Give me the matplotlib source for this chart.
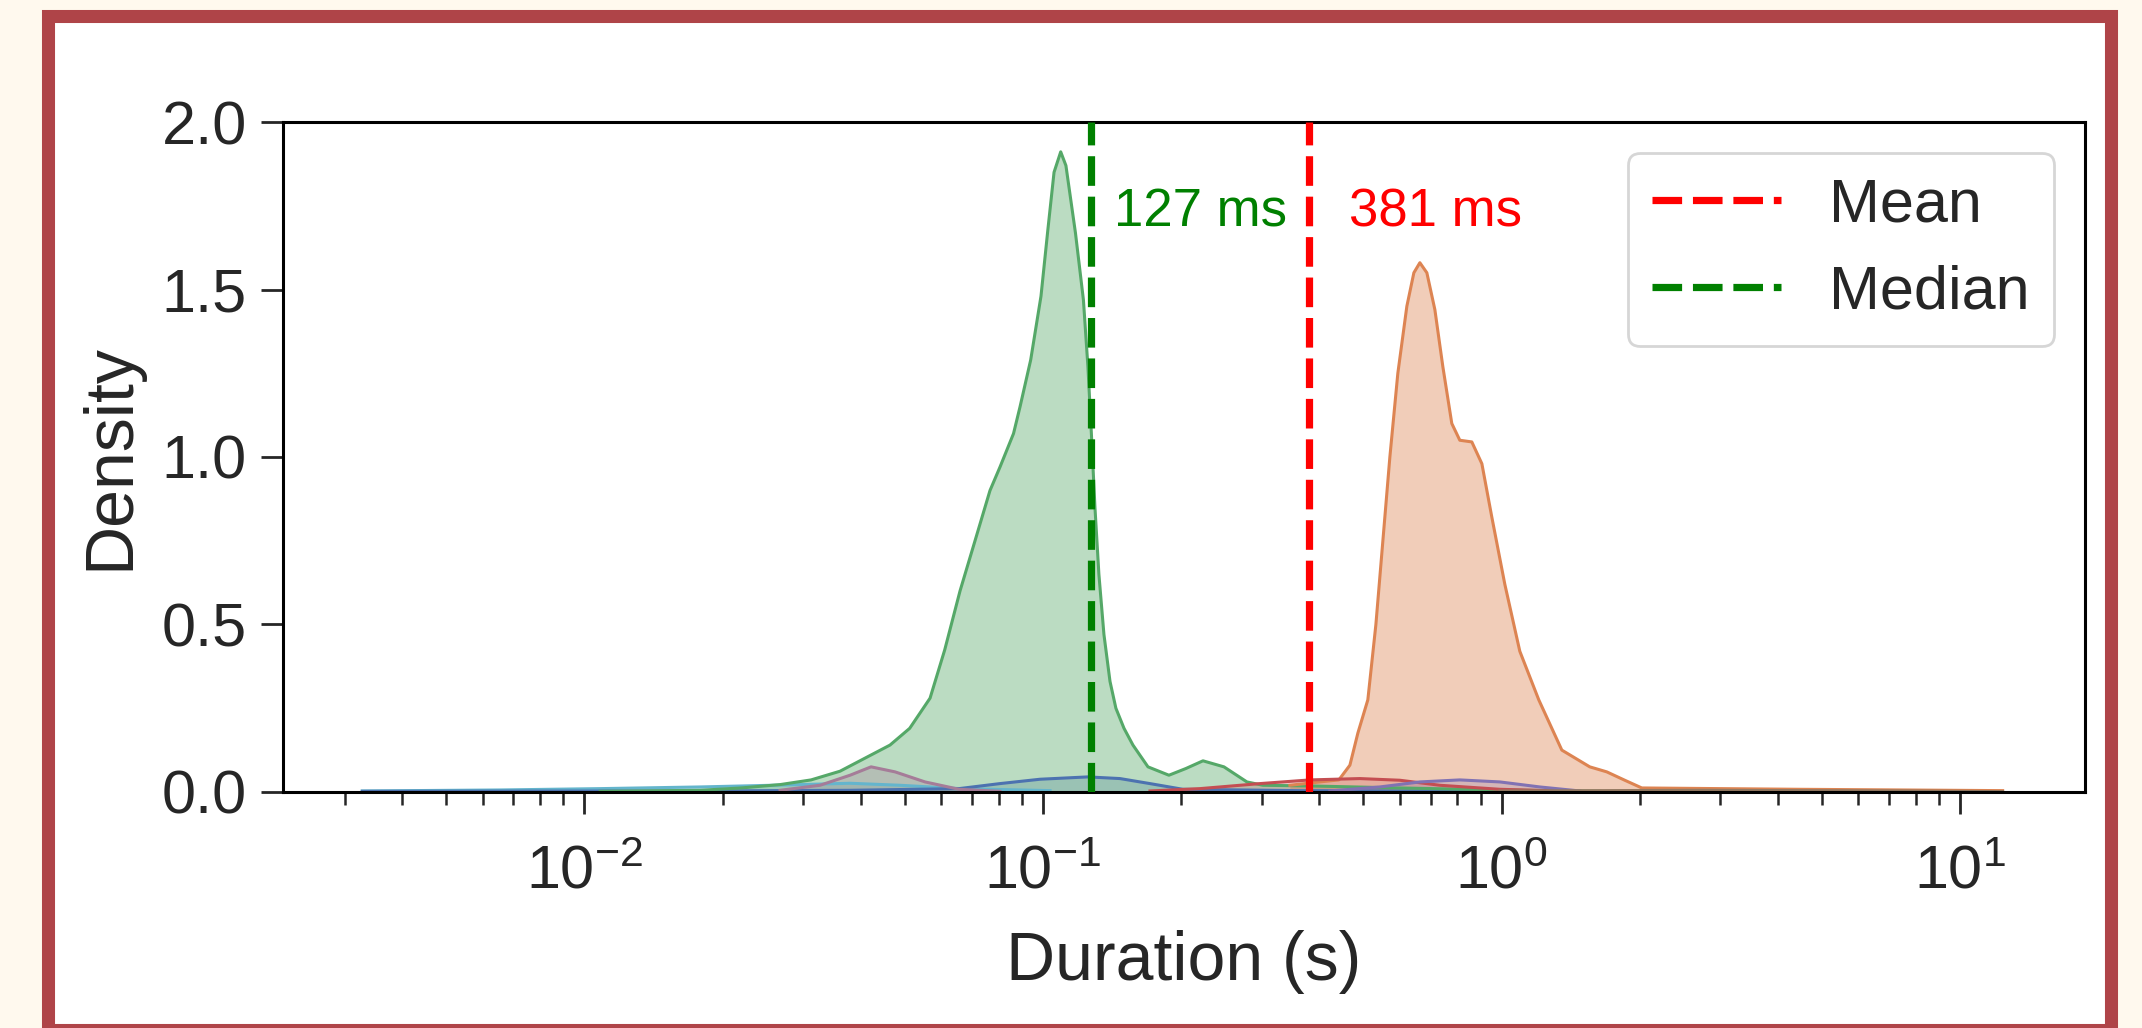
import matplotlib
matplotlib.use("Agg")
import matplotlib.pyplot as plt
from matplotlib.patches import Rectangle
from matplotlib.lines import Line2D

# ---------------- data (durations in seconds, density) ----------------
green_x = [0.01082, 0.01788, 0.02196, 0.02670, 0.03120, 0.03609, 0.04144, 0.04638,
           0.05120, 0.05671, 0.06104, 0.06592, 0.07108, 0.07663, 0.08057, 0.08624,
           0.08911, 0.09401, 0.09899, 0.1025, 0.1057, 0.1093, 0.1122, 0.1177,
           0.1225, 0.1253, 0.1275, 0.1298, 0.1324, 0.1358, 0.1400, 0.1442,
           0.1502, 0.1571, 0.1694, 0.1882, 0.2049, 0.2233, 0.2481, 0.2784,
           0.3017, 0.3821, 0.6003, 0.9915, 1.638]
green_y = [0.002, 0.005, 0.012, 0.022, 0.036, 0.062, 0.105, 0.14,
           0.19, 0.28, 0.424, 0.60, 0.75, 0.90, 0.97, 1.07,
           1.15, 1.29, 1.48, 1.68, 1.85, 1.911, 1.87, 1.669,
           1.469, 1.27, 1.07, 0.85, 0.65, 0.47, 0.33, 0.25,
           0.19, 0.14, 0.075, 0.05, 0.07, 0.093, 0.075, 0.03,
           0.02, 0.018, 0.012, 0.006, 0.002]

orange_x = [0.3455, 0.4017, 0.4418, 0.4670, 0.4861, 0.5110, 0.5321, 0.5511,
            0.5708, 0.5941, 0.6216, 0.6439, 0.6636, 0.6873, 0.7155, 0.7447,
            0.7790, 0.8110, 0.8614, 0.9060, 0.9526, 1.0167, 1.0962, 1.2057,
            1.3536, 1.5574, 1.6965, 1.8571, 2.0225, 4.4699, 12.384]
orange_y = [0.02, 0.03, 0.036, 0.08, 0.176, 0.275, 0.5, 0.75,
            1.0, 1.25, 1.45, 1.55, 1.58, 1.55, 1.44, 1.27,
            1.1, 1.05, 1.045, 0.98, 0.82, 0.62, 0.42, 0.275,
            0.125, 0.075, 0.06, 0.035, 0.012, 0.008, 0.004]

blue_x = [0.003276, 0.01788, 0.03795, 0.06560, 0.08057, 0.09851, 0.1253, 0.1472,
          0.1711, 0.2019, 0.3634, 0.9915]
blue_y = [0.002, 0.003, 0.005, 0.01, 0.025, 0.038, 0.045, 0.04,
          0.025, 0.008, 0.004, 0.002]

pink_x = [0.0267, 0.03264, 0.03795, 0.04217, 0.04757, 0.05530, 0.0656, 0.08057]
pink_y = [0.005, 0.02, 0.05, 0.075, 0.06, 0.03, 0.008, 0.002]

cyan_x = [0.003276, 0.006551, 0.01082, 0.01788, 0.02953, 0.03795, 0.04878, 0.06592, 0.1036]
cyan_y = [0.003, 0.006, 0.01, 0.015, 0.022, 0.026, 0.02, 0.01, 0.004]

red_x = [0.1711, 0.2200, 0.2972, 0.3821, 0.4911, 0.6003, 0.7337, 0.9915, 1.340]
red_y = [0.003, 0.01, 0.025, 0.036, 0.04, 0.035, 0.02, 0.008, 0.003]

purple_x = [0.4222, 0.5429, 0.6636, 0.8110, 0.9915, 1.2119, 1.4815]
purple_y = [0.003, 0.015, 0.03, 0.036, 0.03, 0.015, 0.003]

brown_x = [0.9915, 2.706, 7.384, 12.38]
brown_y = [0.003, 0.005, 0.003, 0.001]

mean_val = 0.381
median_val = 0.127
mean_label = "381 ms"
median_label = "127 ms"
legend_labels = ["Mean", "Median"]
x_label = "Duration (s)"
y_label = "Density"
y_ticks = [0.0, 0.5, 1.0, 1.5, 2.0]

# ---------------- style ----------------
plt.rcParams['font.family'] = ['Liberation Sans', 'DejaVu Sans']
plt.rcParams['mathtext.fontset'] = 'custom'
plt.rcParams['mathtext.rm'] = 'Liberation Sans'
plt.rcParams['mathtext.it'] = 'Liberation Sans:italic'
plt.rcParams['mathtext.default'] = 'regular'

TXT = '#262626'
DASH = (4.1, 1.5)
LW = 2.6

fig = plt.figure(figsize=(10.71, 5.14), dpi=200)
fig.patch.set_facecolor('#FFF9EE')
fig.patches.append(Rectangle((0.02264, -0.00146), 0.98530 - 0.02264, 0.98492 + 0.00146,
                             transform=fig.transFigure, facecolor='white',
                             edgecolor='#AF4448', linewidth=4.7, zorder=-10))

ax = fig.add_axes([0.1321, 0.2296, 0.9734 - 0.1321, 0.8813 - 0.2296])
ax.set_facecolor('white')

series = [
    (cyan_x, cyan_y, '#64B5CD', 0.3),
    (blue_x, blue_y, '#4C72B0', 0.3),
    (green_x, green_y, '#55A868', 0.4),
    (orange_x, orange_y, '#DD8452', 0.4),
    (pink_x, pink_y, '#A57C98', 0.3),
    (red_x, red_y, '#C44E52', 0.25),
    (purple_x, purple_y, '#8172B3', 0.25),
    (brown_x, brown_y, '#937860', 0.3),
]
for xs, ys, col, a in series:
    ax.fill_between(xs, ys, 0, color=col, alpha=a, linewidth=0)
    ax.plot(xs, ys, color=col, lw=1.1)

ax.set_xscale('log')
ax.set_xlim(0.00220, 18.73)
ax.set_ylim(0, 2.0)
ax.set_yticks(y_ticks)

ax.axvline(mean_val, color='red', ls='--', lw=LW, dashes=DASH, zorder=5)
ax.axvline(median_val, color='green', ls='--', lw=LW, dashes=DASH, zorder=5)
ax.text(0.143, 1.73, median_label, color='green', fontsize=19, va='center', ha='left')
ax.text(0.465, 1.73, mean_label, color='red', fontsize=19, va='center', ha='left')

handles = [Line2D([], [], color='red', ls='--', lw=LW, dashes=DASH),
           Line2D([], [], color='green', ls='--', lw=LW, dashes=DASH)]
leg = ax.legend(handles, legend_labels, loc='upper right', fontsize=22, frameon=True,
                handlelength=2.1)
for t in leg.get_texts():
    t.set_color(TXT)

ax.set_xlabel(x_label, fontsize=24.5, color=TXT, labelpad=10)
ax.set_ylabel(y_label, fontsize=24.5, color=TXT, labelpad=7)
ax.tick_params(axis='both', which='major', labelsize=22, length=8, width=1.0,
               colors=TXT, pad=5)
ax.tick_params(axis='x', which='major', pad=11)
ax.tick_params(axis='both', which='minor', length=4.5, width=0.9, colors=TXT)
for s in ax.spines.values():
    s.set_linewidth(1.1)
    s.set_color('black')

fig.savefig('out.png', dpi=200, facecolor=fig.get_facecolor())
